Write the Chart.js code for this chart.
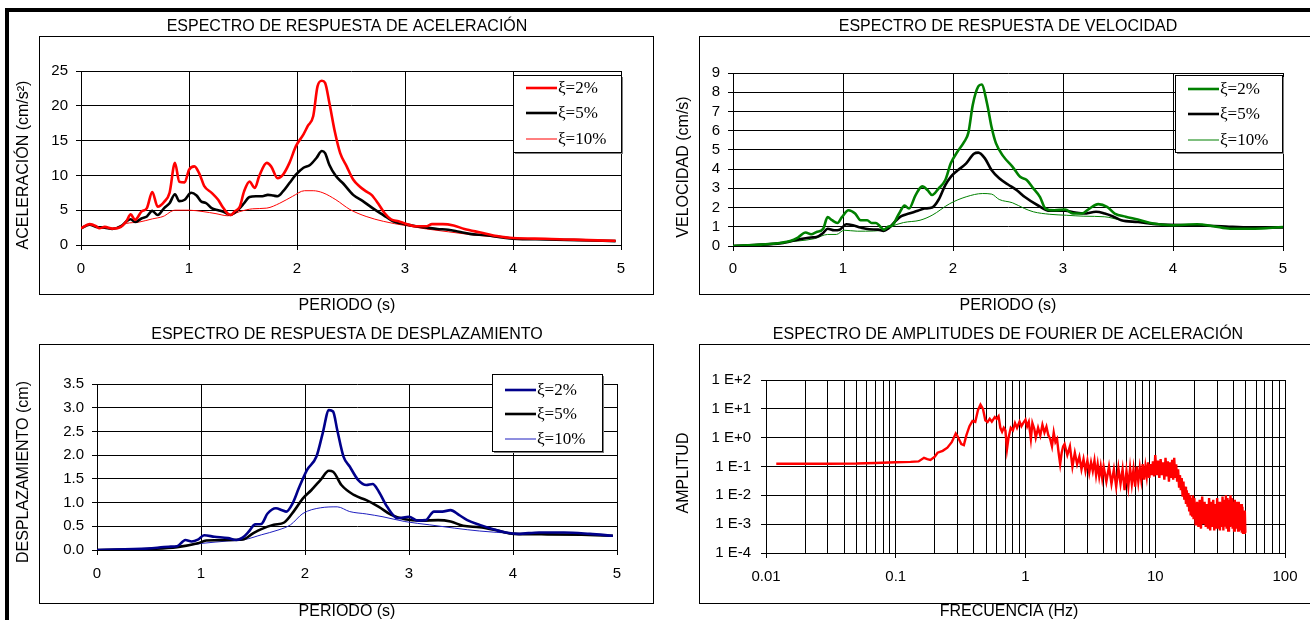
<!DOCTYPE html>
<html>
<head>
<meta charset="utf-8">
<script src="https://cdn.jsdelivr.net/npm/chart.js@4/dist/chart.umd.min.js"></script>
<style>
  html, body { margin:0; padding:0; background:#fff; }
  #wrap { position:relative; width:1310px; height:620px; overflow:hidden; background:#fff; }
  canvas { position:absolute; }
  .bar { position:absolute; background:#000; }
</style>
</head>
<body>
<div id="wrap">
  <div class="bar" style="left:5px;top:8px;width:1305px;height:4px;"></div>
  <div class="bar" style="left:5px;top:8px;width:4px;height:612px;"></div>
  <canvas id="c1" width="660" height="320" style="left:0px;top:0px;"></canvas>
  <canvas id="c2" width="655" height="320" style="left:655px;top:0px;"></canvas>
  <canvas id="c3" width="660" height="310" style="left:0px;top:310px;"></canvas>
  <canvas id="c4" width="655" height="310" style="left:655px;top:310px;"></canvas>
</div>
<script>
// ---------------- DATA ----------------
const dampingLabels = ['ξ=2%', 'ξ=5%', 'ξ=10%'];
const periodTicks = [0, 1, 2, 3, 4, 5];

// Acceleration spectrum (cm/s²)
const accT2 = [0,0.08,0.14,0.17,0.22,0.29,0.37,0.42,0.46,0.5,0.56,0.61,0.66,0.71,0.77,0.82,0.87,0.91,0.96,1.0,1.05,1.1,1.14,1.21,1.27,1.31,1.36,1.39,1.42,1.47,1.51,1.56,1.61,1.65,1.72,1.76,1.82,1.87,1.93,1.99,2.06,2.1,2.15,2.19,2.23,2.26,2.3,2.35,2.4,2.46,2.52,2.58,2.64,2.69,2.75,2.81,2.87,2.94,3.0,3.1,3.2,3.25,3.35,3.45,3.55,3.7,3.85,4.0,4.3,4.5,4.7,4.95];
const acc2  = [2.4,3.0,2.7,2.4,2.6,2.35,2.6,3.4,4.4,3.6,4.8,5.3,7.6,5.5,6.2,7.5,11.8,9.1,9.0,10.8,11.3,10.1,8.5,7.5,6.5,5.5,4.5,4.3,4.8,5.5,7.7,9.1,8.2,9.9,11.8,11.3,9.6,10.1,11.8,14.2,15.9,17.1,18.5,22.8,23.6,23.3,20.4,16.3,13.2,11.3,9.4,8.4,7.7,7.2,6.0,4.6,3.7,3.4,3.1,2.7,2.7,3.0,3.0,2.8,2.3,1.8,1.3,1.0,0.9,0.8,0.7,0.6];
const accT5 = [0,0.08,0.14,0.22,0.29,0.37,0.43,0.46,0.5,0.56,0.61,0.66,0.71,0.77,0.82,0.87,0.91,0.96,1.02,1.07,1.11,1.16,1.21,1.27,1.33,1.38,1.42,1.47,1.51,1.56,1.62,1.68,1.73,1.78,1.82,1.87,1.93,1.99,2.06,2.12,2.18,2.23,2.26,2.3,2.36,2.43,2.52,2.61,2.7,2.8,2.89,3.0,3.1,3.2,3.3,3.4,3.5,3.6,3.75,3.9,4.0,4.3,4.6,4.95];
const acc5  = [2.4,2.9,2.6,2.5,2.3,2.7,3.5,3.7,3.3,3.8,4.1,4.9,4.3,5.3,6.0,7.3,6.3,6.5,7.5,7.1,6.3,6.0,5.3,5.0,4.7,4.3,4.6,5.3,6.0,6.9,7.0,7.0,7.2,7.1,7.0,7.7,8.9,10.1,11.1,11.5,12.5,13.5,13.2,11.5,9.9,8.8,7.2,6.3,5.3,4.3,3.4,3.0,2.7,2.5,2.3,2.2,1.9,1.6,1.4,1.1,0.9,0.8,0.7,0.55];
const accT10 = [0,0.08,0.17,0.29,0.42,0.54,0.66,0.76,0.87,1.0,1.13,1.25,1.36,1.47,1.59,1.72,1.84,1.96,2.07,2.15,2.24,2.36,2.49,2.64,2.8,3.0,3.2,3.4,3.6,3.8,4.0,4.3,4.6,4.95];
const acc10  = [2.4,2.9,2.5,2.35,3.1,3.3,3.75,4.1,5.0,5.0,4.8,4.5,4.2,4.8,5.2,5.3,6.0,7.0,7.8,7.8,7.5,6.5,5.1,4.1,3.4,2.8,2.3,1.9,1.5,1.2,0.95,0.85,0.7,0.55];

// Velocity spectrum (cm/s)
const velT2 = [0,0.25,0.44,0.52,0.59,0.66,0.71,0.76,0.82,0.86,0.9,0.95,0.99,1.05,1.11,1.16,1.22,1.26,1.3,1.34,1.37,1.41,1.45,1.51,1.56,1.6,1.66,1.72,1.77,1.81,1.87,1.93,1.98,2.04,2.1,2.14,2.18,2.23,2.26,2.31,2.35,2.39,2.46,2.54,2.61,2.67,2.73,2.79,2.84,2.92,3.02,3.09,3.17,3.24,3.32,3.4,3.47,3.57,3.68,3.82,3.99,4.22,4.37,4.52,4.71,5.0];
const vel2  = [0,0.07,0.17,0.26,0.44,0.7,0.61,0.73,0.9,1.5,1.34,1.2,1.5,1.86,1.69,1.34,1.34,1.2,1.2,1.0,0.85,1.0,1.08,1.69,2.1,1.95,2.65,3.1,2.9,2.65,3.0,3.43,4.3,4.9,5.4,5.9,7.35,8.3,8.4,7.4,6.2,5.35,4.65,4.13,3.6,3.43,3.0,2.56,1.95,1.86,1.9,1.69,1.69,1.95,2.18,2.04,1.69,1.52,1.38,1.17,1.08,1.13,1.03,0.9,0.9,0.99];
const velT5 = [0,0.44,0.59,0.71,0.76,0.82,0.86,0.92,0.97,1.03,1.09,1.16,1.24,1.32,1.37,1.41,1.47,1.53,1.6,1.68,1.74,1.81,1.87,1.93,1.98,2.04,2.12,2.19,2.23,2.29,2.35,2.42,2.5,2.58,2.65,2.77,2.88,3.02,3.11,3.19,3.3,3.38,3.45,3.53,3.68,3.87,4.18,4.44,4.71,5.0];
const vel5  = [0,0.15,0.33,0.44,0.47,0.68,0.9,0.82,0.85,1.13,1.08,0.96,0.87,0.85,0.78,0.9,1.25,1.55,1.69,1.83,1.95,2.0,2.42,3.17,3.6,3.92,4.3,4.8,4.86,4.56,3.95,3.52,3.2,2.9,2.56,2.12,1.83,1.83,1.74,1.69,1.78,1.69,1.55,1.34,1.25,1.13,1.08,1.03,0.96,0.96];
const velT10 = [0,0.59,0.74,0.86,0.94,1.01,1.13,1.28,1.37,1.43,1.55,1.7,1.81,1.97,2.12,2.27,2.35,2.42,2.54,2.65,2.73,2.88,3.03,3.19,3.38,3.53,3.72,3.99,4.26,4.56,4.79,5.0];
const vel10  = [0,0.26,0.38,0.6,0.6,0.82,0.77,0.78,0.85,1.0,1.22,1.34,1.6,2.2,2.56,2.73,2.7,2.42,2.25,1.95,1.78,1.65,1.6,1.55,1.52,1.34,1.2,1.08,1.05,0.94,0.89,0.96];

// Displacement spectrum (cm)
const disT2 = [0,0.49,0.69,0.77,0.85,0.91,0.97,1.03,1.13,1.26,1.34,1.4,1.46,1.52,1.58,1.64,1.72,1.78,1.82,1.88,1.94,2.02,2.11,2.17,2.23,2.27,2.31,2.37,2.43,2.51,2.59,2.65,2.71,2.79,2.89,3.0,3.08,3.16,3.24,3.32,3.4,3.48,3.56,3.68,3.81,3.93,4.05,4.25,4.49,4.74,4.96];
const dis2  = [0,0.03,0.07,0.08,0.21,0.18,0.22,0.31,0.28,0.25,0.21,0.26,0.39,0.54,0.55,0.77,0.88,0.84,0.81,0.98,1.3,1.69,1.97,2.46,2.95,2.92,2.53,1.97,1.76,1.48,1.37,1.39,1.23,0.91,0.67,0.7,0.62,0.63,0.81,0.81,0.84,0.74,0.63,0.53,0.44,0.37,0.34,0.37,0.37,0.34,0.3];
const disT5 = [0,0.49,0.77,0.97,1.05,1.26,1.4,1.5,1.58,1.7,1.8,1.9,1.98,2.06,2.15,2.23,2.27,2.35,2.47,2.59,2.71,2.83,2.96,3.12,3.28,3.4,3.52,3.68,3.85,4.01,4.33,4.66,4.96];
const dis5  = [0,0.02,0.06,0.14,0.2,0.21,0.22,0.35,0.44,0.53,0.58,0.84,1.09,1.26,1.48,1.67,1.65,1.37,1.16,1.05,0.91,0.74,0.65,0.62,0.63,0.6,0.51,0.48,0.41,0.34,0.33,0.32,0.3];
const disT10 = [0,0.77,1.01,1.26,1.42,1.58,1.74,1.86,1.98,2.15,2.31,2.43,2.59,2.75,2.96,3.2,3.44,3.68,4.01,4.33,4.66,4.96];
const dis10  = [0,0.07,0.14,0.19,0.22,0.32,0.42,0.53,0.77,0.89,0.91,0.81,0.76,0.7,0.6,0.53,0.46,0.4,0.35,0.33,0.32,0.3];

// Fourier amplitude spectrum
const fourierF = [0.012,0.02,0.03,0.05,0.07,0.1,0.13,0.15,0.165,0.175,0.185,0.2,0.21,0.23,0.25,0.27,0.29,0.3,0.32,0.335,0.35,0.37,0.39,0.41,0.43,0.45,0.47,0.49,0.51,0.53,0.55,0.58,0.6,0.62,0.64,0.66,0.68,0.7,0.72,0.74,0.77,0.8,0.83,0.86,0.9,0.93,0.96,1.0,1.03,1.06,1.1,1.13,1.17,1.2,1.25,1.3,1.35,1.4,1.45,1.5,1.55,1.6,1.65,1.7,1.75,1.8,1.85,1.9,1.95,
  2,2.1,2.2,2.3,2.4,2.5,2.6,2.7,2.8,2.9,3,3.1,3.2,3.3,3.4,3.5,3.6,3.7,3.8,3.9,
  4,4.2,4.4,4.6,4.8,5,5.2,5.4,5.6,5.8,6,6.2,6.4,6.6,6.8,7,7.2,7.4,7.6,7.8,8,8.2,8.4,8.6,8.8,9,9.2,9.4,9.6,9.8,
  10,10.25,10.5,10.75,11,11.25,11.5,11.75,12,12.25,12.5,12.75,13,13.25,13.5,13.75,14,14.25,14.5,14.75,15,15.25,15.5,15.75,16,16.25,16.5,16.75,17,17.25,17.5,17.75,18,18.25,18.5,18.75,19,19.25,19.5,19.75,
  20,20.5,21,21.5,22,22.5,23,23.5,24,24.5,25,25.5,26,26.5,27,27.5,28,28.5,29,29.5,30,30.5,31,31.5,32,32.5,33,33.5,34,34.5,35,35.5,36,36.5,37,37.5,38,38.5,39,39.5,40,40.5,41,41.5,42,42.5,43,43.5,44,44.5,45,45.5,46,46.5,47,47.5,48,48.5,49,49.5,50];
const fourierA = [0.125,0.125,0.125,0.127,0.133,0.14,0.145,0.15,0.2,0.18,0.17,0.22,0.3,0.35,0.45,0.7,1.4,1.1,0.6,0.55,1.2,2.5,3.8,3.5,9,14,10,4,3.5,4.5,3.6,5.2,4.5,5.5,2.2,1.6,2.2,1.8,0.4,1.0,2.2,1.8,3.2,2.2,3.6,2.5,3.2,4.2,2.5,3.5,0.9,3.2,2.0,1.0,2.2,1.2,2.8,1.5,2.4,1.2,0.9,0.5,1.5,0.7,0.9,0.3,0.12,0.3,0.5,
  0.6,0.25,0.5,0.1,0.3,0.12,0.22,0.08,0.18,0.07,0.16,0.06,0.14,0.07,0.16,0.05,0.12,0.045,0.1,0.04,
  0.1,0.03,0.1,0.025,0.08,0.02,0.09,0.025,0.08,0.015,0.07,0.02,0.09,0.025,0.08,0.02,0.1,0.03,0.09,0.035,0.12,0.035,0.1,0.045,0.14,0.04,0.12,0.05,0.15,0.045,
  0.25,0.05,0.16,0.04,0.18,0.05,0.14,0.035,0.2,0.045,0.15,0.03,0.14,0.04,0.17,0.035,0.2,0.04,0.12,0.03,0.08,0.02,0.05,0.015,0.04,0.009,0.03,0.007,0.02,0.005,0.015,0.004,0.012,0.003,0.01,0.002,0.008,0.002,0.01,0.0015,
  0.008,0.0009,0.006,0.0008,0.007,0.0007,0.009,0.001,0.006,0.0008,0.005,0.0007,0.008,0.0006,0.006,0.0008,0.007,0.0006,0.005,0.0007,0.008,0.0007,0.006,0.0006,0.005,0.0008,0.009,0.0006,0.007,0.0009,0.01,0.0007,0.008,0.0006,0.007,0.0008,0.01,0.0009,0.008,0.0007,0.006,0.0006,0.007,0.0008,0.006,0.0007,0.005,0.0006,0.006,0.0006,0.004,0.0006,0.005,0.0005,0.004,0.0005,0.003,0.0005,0.003,0.0005,0.0005];
const fourierXGrid = [0.01,0.02,0.03,0.04,0.05,0.06,0.07,0.08,0.09,0.1,0.2,0.3,0.4,0.5,0.6,0.7,0.8,0.9,1,2,3,4,5,6,7,8,9,10,20,30,40,50,60,70,80,90,100];
const fourierXLabels = ['0.01','0.1','1','10','100'];
const fourierYTicks = [100,10,1,0.1,0.01,0.001,0.0001];
const fourierYLabels = ['1 E+2','1 E+1','1 E+0','1 E-1','1 E-2','1 E-3','1 E-4'];

// ---------------- RENDER ----------------
const SANS = '"Liberation Sans", Arial, Helvetica, sans-serif';
const SERIF = '"Liberation Serif", "Times New Roman", serif';
Chart.defaults.font.family = SANS;
Chart.defaults.color = '#000';

function pts(xs, ys) { return xs.map((x, i) => ({ x: x, y: ys[i] })); }

const deco = {
  id: 'deco',
  beforeDraw(chart, args, o) {
    const ctx = chart.ctx, f = o.frame;
    ctx.save();
    ctx.strokeStyle = '#000'; ctx.lineWidth = 1;
    ctx.strokeRect(f[0] + 0.5, f[1] + 0.5, f[2] - f[0], f[3] - f[1]);
    ctx.restore();
  },
  afterDraw(chart, args, o) {
    const ctx = chart.ctx;
    ctx.save();
    ctx.fillStyle = '#000';
    ctx.font = '16px ' + SANS;
    ctx.textAlign = 'center'; ctx.textBaseline = 'middle';
    ctx.fillText(o.title, o.titlePos[0], o.titlePos[1]);
    ctx.fillText(o.xTitle, o.xTitlePos[0], o.xTitlePos[1]);
    ctx.save();
    ctx.translate(o.yTitlePos[0], o.yTitlePos[1]);
    ctx.rotate(-Math.PI / 2);
    ctx.fillText(o.yTitle, 0, 0);
    ctx.restore();
    if (o.legend) {
      const b = o.legend.box, w = b[2] - b[0], h = b[3] - b[1];
      ctx.fillStyle = '#7f7f7f'; ctx.fillRect(b[0] + 2, b[1] + 2, w, h);
      ctx.fillStyle = '#fff'; ctx.fillRect(b[0], b[1], w, h);
      ctx.strokeStyle = '#000'; ctx.lineWidth = 1; ctx.strokeRect(b[0] + 0.5, b[1] + 0.5, w, h);
      chart.data.datasets.forEach((ds, i) => {
        const y = b[1] + o.legend.rows[i];
        ctx.strokeStyle = ds.borderColor; ctx.lineWidth = ds.borderWidth;
        ctx.beginPath(); ctx.moveTo(b[0] + 13, y); ctx.lineTo(b[0] + 44, y); ctx.stroke();
        ctx.fillStyle = '#000'; ctx.font = '17px ' + SERIF; ctx.textAlign = 'left'; ctx.textBaseline = 'middle';
        ctx.fillText(ds.label, b[0] + 45, y + 1);
      });
    }
    ctx.restore();
  }
};

function gridOpts(extra) {
  return Object.assign({ color: '#000', lineWidth: 1, tickLength: 5, tickColor: '#000', drawTicks: true }, extra || {});
}

function lineDs(label, xs, ys, color, width) {
  return { label: label, data: pts(xs, ys), borderColor: color, backgroundColor: color, borderWidth: width,
           pointRadius: 0, fill: false, cubicInterpolationMode: 'monotone' };
}

function spectrumChart(id, datasets, yMax, yStep, yFmt, pad, xPad, decoOpts) {
  return new Chart(document.getElementById(id), {
    type: 'line',
    data: { datasets: datasets },
    options: {
      responsive: false, animation: false, devicePixelRatio: 1, events: [],
      layout: { padding: pad },
      plugins: { legend: { display: false }, tooltip: { enabled: false }, deco: decoOpts },
      scales: {
        x: { type: 'linear', min: 0, max: 5,
             afterBuildTicks: s => { s.ticks = periodTicks.map(v => ({ value: v })); },
             ticks: { autoSkip: false, font: { size: 15 }, padding: xPad, maxRotation: 0, color: '#000' },
             grid: gridOpts(), border: { color: '#000', width: 1 },
             afterFit: s => { s.height = 40; } },
        y: { type: 'linear', min: 0, max: yMax,
             ticks: { autoSkip: false, stepSize: yStep, font: { size: 15 }, padding: 8, color: '#000', callback: yFmt },
             grid: gridOpts(), border: { color: '#000', width: 1 },
             afterFit: s => { s.width = 60; } }
      }
    },
    plugins: [deco]
  });
}

// Panel 1: acceleration
spectrumChart('c1', [
  lineDs(dampingLabels[0], accT2, acc2, '#FF0000', 2.6),
  lineDs(dampingLabels[1], accT5, acc5, '#000000', 2.6),
  lineDs(dampingLabels[2], accT10, acc10, '#FF0000', 1)
], 25, 5, v => String(v), { left: 21, top: 71, right: 39, bottom: 35 }, 10, {
  frame: [39, 36, 653, 294],
  title: 'ESPECTRO DE RESPUESTA DE ACELERACIÓN', titlePos: [347, 27],
  xTitle: 'PERIODO (s)', xTitlePos: [347, 306],
  yTitle: 'ACELERACIÓN (cm/s²)', yTitlePos: [24, 165],
  legend: { box: [513, 75, 621, 152], rows: [13, 38, 64] }
});

// Panel 2: velocity
spectrumChart('c2', [
  lineDs(dampingLabels[0], velT2, vel2, '#008000', 2.6),
  lineDs(dampingLabels[1], velT5, vel5, '#000000', 2.6),
  lineDs(dampingLabels[2], velT10, vel10, '#008000', 1)
], 9, 1, v => String(v), { left: 18, top: 73, right: 27, bottom: 34 }, 9, {
  frame: [44, 36, 700, 294],
  title: 'ESPECTRO DE RESPUESTA DE VELOCIDAD', titlePos: [353, 27],
  xTitle: 'PERIODO (s)', xTitlePos: [353, 306],
  yTitle: 'VELOCIDAD (cm/s)', yTitlePos: [29, 167],
  legend: { box: [520, 75, 627, 152], rows: [14, 39, 65] }
});

// Panel 3: displacement
spectrumChart('c3', [
  lineDs(dampingLabels[0], disT2, dis2, '#00008B', 2.6),
  lineDs(dampingLabels[1], disT5, dis5, '#000000', 2.6),
  lineDs(dampingLabels[2], disT10, dis10, '#1F1FBF', 1)
], 3.5, 0.5, v => Number(v).toFixed(1), { left: 37, top: 74, right: 43, bottom: 30 }, 10, {
  frame: [39, 34, 653, 293],
  title: 'ESPECTRO DE RESPUESTA DE DESPLAZAMIENTO', titlePos: [347, 25],
  xTitle: 'PERIODO (s)', xTitlePos: [347, 302],
  yTitle: 'DESPLAZAMIENTO (cm)', yTitlePos: [24, 162],
  legend: { box: [492, 64, 602, 141], rows: [16, 40, 65] }
});

// Panel 4: Fourier amplitude spectrum
new Chart(document.getElementById('c4'), {
  type: 'line',
  data: { datasets: [{ label: 'AMPLITUD', data: pts(fourierF, fourierA), borderColor: '#FF0000',
                       borderWidth: 2.4, pointRadius: 0, fill: false, tension: 0 }] },
  options: {
    responsive: false, animation: false, devicePixelRatio: 1, events: [],
    layout: { padding: { left: 51, top: 70, right: 25, bottom: 27 } },
    plugins: { legend: { display: false }, tooltip: { enabled: false }, deco: {
      frame: [44, 34, 700, 293],
      title: 'ESPECTRO DE AMPLITUDES DE FOURIER DE ACELERACIÓN', titlePos: [353, 25],
      xTitle: 'FRECUENCIA (Hz)', xTitlePos: [354, 302],
      yTitle: 'AMPLITUD', yTitlePos: [29, 163]
    } },
    scales: {
      x: { type: 'logarithmic', min: 0.01, max: 100,
           afterBuildTicks: s => { s.ticks = fourierXGrid.map(v => ({ value: v })); },
           ticks: { autoSkip: false, maxRotation: 0, font: { size: 15 }, padding: 10, color: '#000',
                    callback: v => { const s = String(+Number(v).toPrecision(6)); return fourierXLabels.includes(s) ? s : ''; } },
           grid: gridOpts({ tickColor: ctx => {
             const s = String(+Number(ctx.tick.value).toPrecision(6));
             return fourierXLabels.includes(s) ? '#000' : 'rgba(0,0,0,0)'; } }),
           border: { color: '#000', width: 1 },
           afterFit: s => { s.height = 40; } },
      y: { type: 'logarithmic', min: 0.0001, max: 100,
           afterBuildTicks: s => { s.ticks = fourierYTicks.map(v => ({ value: v })); },
           ticks: { autoSkip: false, font: { size: 15 }, padding: 10, color: '#000',
                    callback: v => { const i = fourierYTicks.findIndex(t => Math.abs(Math.log10(t) - Math.log10(v)) < 1e-6); return i >= 0 ? fourierYLabels[i] : ''; } },
           grid: gridOpts(), border: { color: '#000', width: 1 },
           afterFit: s => { s.width = 60; } }
    }
  },
  plugins: [deco]
});
</script>
</body>
</html>
